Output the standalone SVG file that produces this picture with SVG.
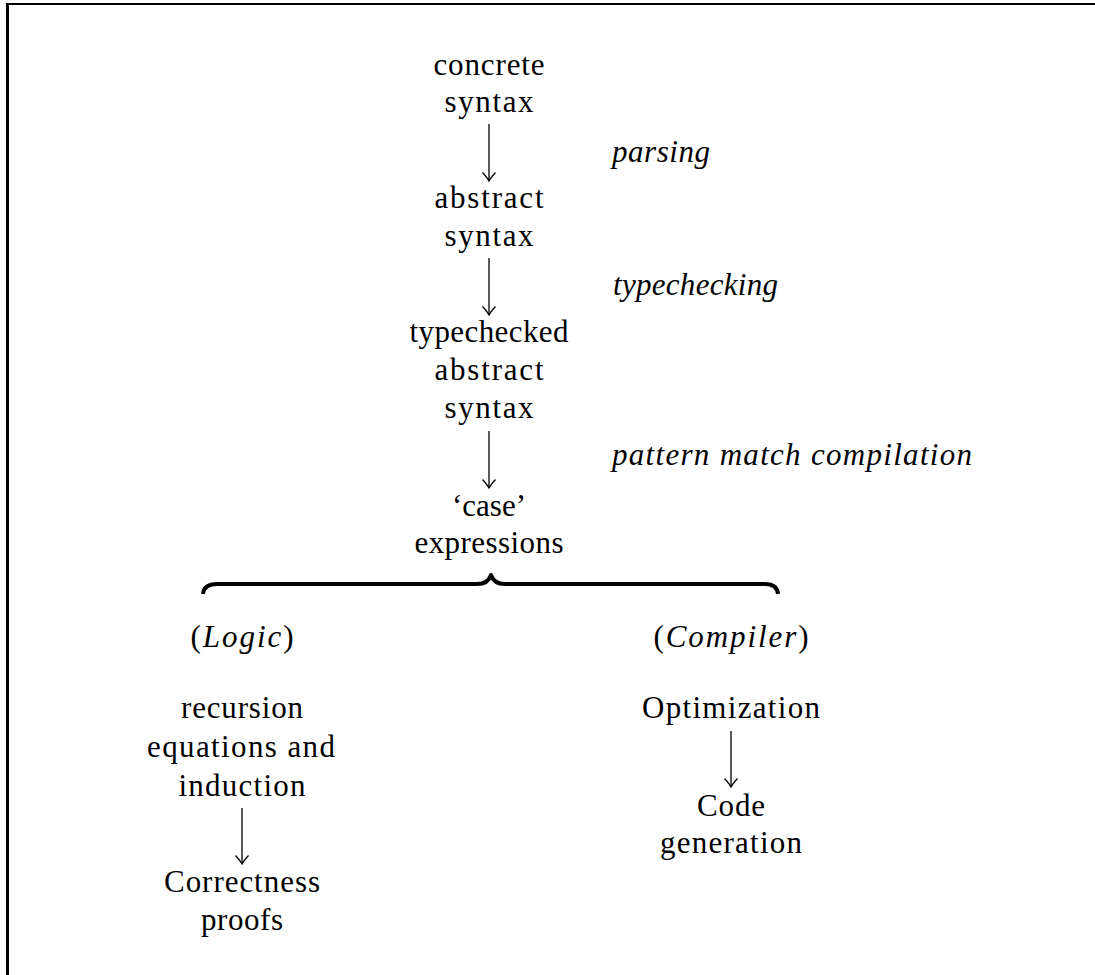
<svg xmlns="http://www.w3.org/2000/svg" width="1095" height="975" viewBox="0 0 1095 975">
<style>
text{font-family:"Liberation Serif","Times New Roman",serif;font-size:31px;fill:#000}
.n{text-anchor:middle}
.it{font-style:italic}
.edge{stroke:#000;stroke-width:1.3;fill:none}
</style>
<defs>
<marker id="arr" viewBox="-10 -8 11 16" refX="0" refY="0" markerWidth="11" markerHeight="16" markerUnits="userSpaceOnUse" orient="auto">
<path d="M -8.5 -6.5 Q -3 -1.5 0 0 Q -3 1.5 -8.5 6.5" fill="none" stroke="#000" stroke-width="1.3"/>
</marker>
</defs>
<rect width="1095" height="975" fill="#fff"/>
<g id="frame">
<line x1="7.5" y1="3" x2="7.5" y2="975" stroke="#000" stroke-width="3"/>
<line x1="6" y1="4" x2="1095" y2="4" stroke="#000" stroke-width="2"/>
</g>
<g id="connectors">
<line class="edge" x1="489" y1="124" x2="489" y2="181" marker-end="url(#arr)"/>
<line class="edge" x1="489" y1="258" x2="489" y2="315" marker-end="url(#arr)"/>
<line class="edge" x1="489" y1="431" x2="489" y2="488" marker-end="url(#arr)"/>
<line class="edge" x1="242" y1="808" x2="242" y2="864" marker-end="url(#arr)"/>
<line class="edge" x1="731" y1="731" x2="731" y2="787" marker-end="url(#arr)"/>
<text class="it" x="612" y="162" textLength="98">parsing</text>
<text class="it" x="613" y="295" textLength="165">typechecking</text>
<text class="it" x="612" y="465" textLength="360">pattern match compilation</text>
</g>
<g id="brace">
<path d="M 203 594 Q 204 584 217 584 L 477 584 Q 488 584 491 575 Q 494 584 505 584 L 765 584 Q 777 584 778 594" fill="none" stroke="#000" stroke-width="4" stroke-linejoin="round"/>
</g>
<g id="concrete-syntax">
<text class="n" x="489" y="75" textLength="111">concrete</text>
<text class="n" x="489" y="112" textLength="89">syntax</text>
</g>
<g id="abstract-syntax">
<text class="n" x="489" y="208" textLength="109">abstract</text>
<text class="n" x="489" y="246" textLength="89">syntax</text>
</g>
<g id="typechecked-abstract-syntax">
<text class="n" x="489" y="342" textLength="159">typechecked</text>
<text class="n" x="489" y="380" textLength="109">abstract</text>
<text class="n" x="489" y="418" textLength="89">syntax</text>
</g>
<g id="case-expressions">
<text class="n" x="489" y="516" textLength="74">‘case’</text>
<text class="n" x="489" y="553" textLength="149">expressions</text>
</g>
<g id="logic">
<text class="n" x="242" y="647" textLength="103">(<tspan class="it">Logic</tspan>)</text>
</g>
<g id="compiler">
<text class="n" x="731" y="647" textLength="155">(<tspan class="it">Compiler</tspan>)</text>
</g>
<g id="recursion-equations">
<text class="n" x="242" y="718" textLength="122">recursion</text>
<text class="n" x="241" y="757" textLength="188">equations and</text>
<text class="n" x="242" y="796" textLength="127">induction</text>
</g>
<g id="correctness-proofs">
<text class="n" x="242" y="892" textLength="156">Correctness</text>
<text class="n" x="242" y="930" textLength="82">proofs</text>
</g>
<g id="optimization">
<text class="n" x="731" y="718" textLength="178">Optimization</text>
</g>
<g id="code-generation">
<text class="n" x="731" y="816" textLength="68">Code</text>
<text class="n" x="731" y="853" textLength="142">generation</text>
</g>
</svg>
